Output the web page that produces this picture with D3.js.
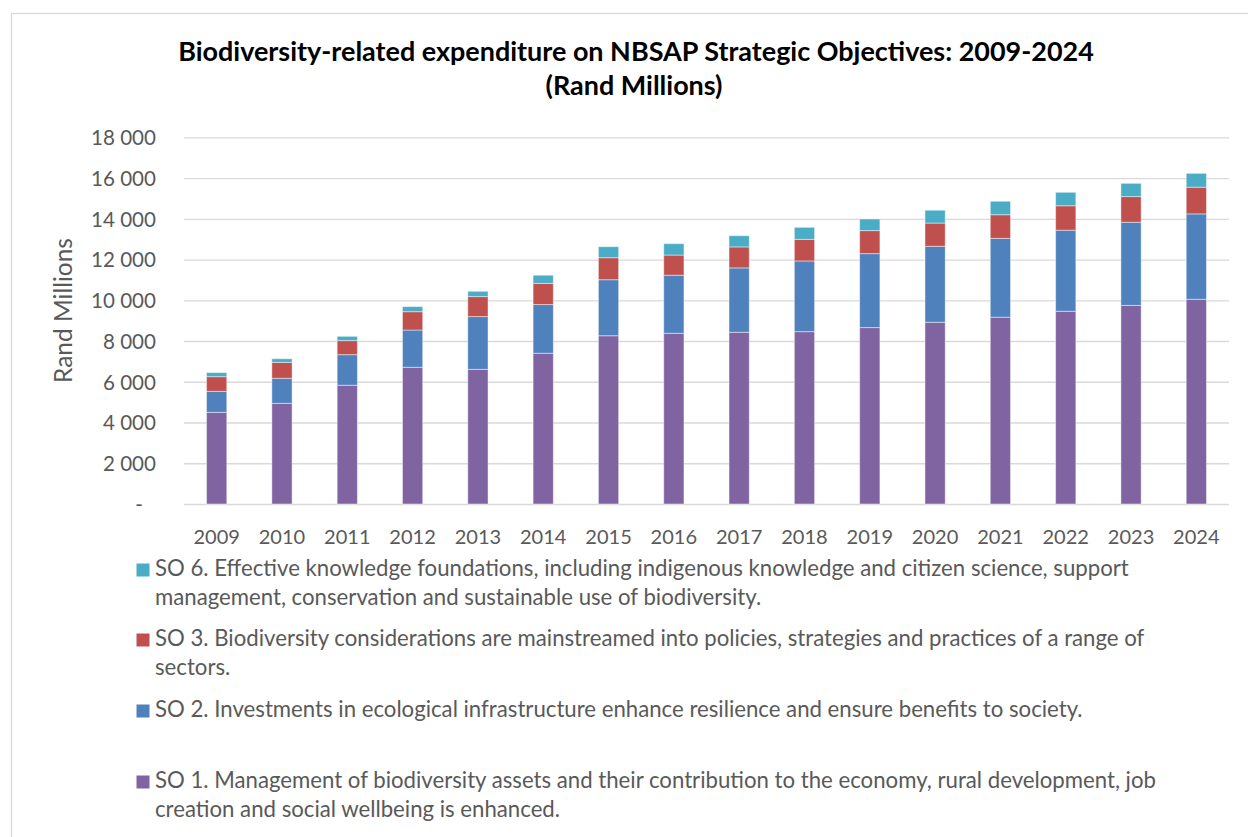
<!DOCTYPE html>
<html>
<head>
<meta charset="utf-8">
<script src="https://cdn.jsdelivr.net/npm/d3@7"></script>
<style>
  html, body { margin: 0; padding: 0; background: #fff; }
  svg { display: block; }
</style>
</head>
<body>
<svg id="chart" width="1248" height="837"></svg>
<script>
// Years on the category axis
const years = ["2009","2010","2011","2012","2013","2014","2015","2016",
               "2017","2018","2019","2020","2021","2022","2023","2024"];

// Expenditure per strategic objective, Rand millions
const so1 = [4500,4940,5830,6710,6610,7400,8260,8380,8430,8460,8660,8920,9170,9460,9750,10050];
const so2 = [1030,1230,1500,1830,2590,2390,2750,2850,3160,3470,3630,3730,3870,3980,4080,4190];
const so3 = [720,780,690,900,980,1040,1080,990,1030,1060,1130,1140,1160,1200,1260,1310];
const so6 = [200,180,210,250,260,400,540,560,550,590,570,630,660,660,650,680];

// Stack order, bottom to top
const seriesKeys = ["so1","so2","so3","so6"];
const seriesColors = { so1: "#8064A2", so2: "#4F81BD", so3: "#C0504D", so6: "#4BACC6" };

// Y-axis tick values
const yTicks = [0,2000,4000,6000,8000,10000,12000,14000,16000,18000];

// Legend entries (top to bottom), already broken into lines
const legendKeys = ["so6","so3","so2","so1"];
const legendLines = [
  ["SO 6. Effective knowledge foundations, including indigenous knowledge and citizen science, support",
   "management, conservation and sustainable use of biodiversity."],
  ["SO 3. Biodiversity considerations are mainstreamed into policies, strategies and practices of a range of",
   "sectors."],
  ["SO 2. Investments in ecological infrastructure enhance resilience and ensure benefits to society."],
  ["SO 1. Management of biodiversity assets and their contribution to the economy, rural development, job",
   "creation and social wellbeing is enhanced."]
];

const titleLines = ["Biodiversity-related expenditure on NBSAP Strategic Objectives: 2009-2024",
                    "(Rand Millions)"];
const yTitle = "Rand Millions";

const FONT = "Lato, 'Open Sans', sans-serif";
const TEXT_GREY = "#595959";
const GRID = "#d9d9d9";

const svg = d3.select("#chart");

// Size a font so that a given string occupies a given width
function fitSize(str, weight, target) {
  const base = 20;
  const t = svg.append("text")
    .attr("font-family", FONT).attr("font-weight", weight)
    .attr("font-size", base).text(str);
  const w = t.node().getComputedTextLength();
  t.remove();
  return base * target / w;
}

// Outer chart frame
svg.append("rect")
  .attr("x", 11.5).attr("y", 13.5)
  .attr("width", 1300).attr("height", 900)
  .attr("fill", "none").attr("stroke", GRID).attr("stroke-width", 1.3);

// Scales
const plot = { left: 184, right: 1229, top: 137.3, bottom: 504 };
const x = d3.scaleBand().domain(years)
  .range([plot.left, plot.right])
  .paddingInner(0.69).paddingOuter(0.345);
const y = d3.scaleLinear().domain([0, 18000]).range([plot.bottom, plot.top]);

// Title
const titleSize = fitSize(titleLines[0], 700, 916);
const cx = (178 + 1094) / 2;
svg.append("text")
  .attr("x", cx).attr("y", 61)
  .attr("text-anchor", "middle")
  .attr("font-family", FONT).attr("font-weight", 700)
  .attr("font-size", titleSize).attr("fill", "#000")
  .text(titleLines[0]);
svg.append("text")
  .attr("x", cx - 2).attr("y", 95)
  .attr("text-anchor", "middle")
  .attr("font-family", FONT).attr("font-weight", 700)
  .attr("font-size", titleSize).attr("fill", "#000")
  .text(titleLines[1]);

// Y axis with gridlines
const tickSize = fitSize("18 000", 400, 65);
const fmt = v => v === 0 ? "-" : d3.format(",")(v).replace(/,/g, " ");
const yAxis = d3.axisLeft(y)
  .tickValues(yTicks)
  .tickFormat(fmt)
  .tickSize(-(plot.right - plot.left))
  .tickPadding(28);
const gy = svg.append("g")
  .attr("transform", `translate(${plot.left},0)`)
  .call(yAxis);
gy.select(".domain").remove();
gy.selectAll(".tick line").attr("stroke", GRID).attr("stroke-width", 1.3);
gy.selectAll(".tick text")
  .attr("font-family", FONT).attr("font-size", tickSize)
  .attr("fill", TEXT_GREY).attr("dy", "0.36em");
gy.selectAll(".tick text").filter(d => d === 0).attr("x", -41);

// Y axis title
const yTitleSize = fitSize(yTitle, 400, 145);
svg.append("text")
  .attr("transform", `translate(72,${(238 + 383) / 2}) rotate(-90)`)
  .attr("text-anchor", "middle")
  .attr("font-family", FONT).attr("font-size", yTitleSize)
  .attr("fill", TEXT_GREY)
  .text(yTitle);

// Stacked bars
const rows = years.map((yr, i) => ({ year: yr, so1: so1[i], so2: so2[i], so3: so3[i], so6: so6[i] }));
const stacked = d3.stack().keys(seriesKeys)(rows);

svg.append("g").selectAll("g")
  .data(stacked)
  .join("g")
  .attr("fill", d => seriesColors[d.key])
  .selectAll("rect")
  .data(d => d)
  .join("rect")
  .attr("x", d => x(d.data.year))
  .attr("width", x.bandwidth())
  .attr("y", d => y(d[1]))
  .attr("height", d => y(d[0]) - y(d[1]))
  .attr("stroke", "#ffffff")
  .attr("stroke-opacity", 0.45)
  .attr("stroke-width", 1);

// X axis labels
const yearSize = fitSize("2009", 400, 46.5);
const xAxis = d3.axisBottom(x).tickSize(0);
const gx = svg.append("g")
  .attr("transform", `translate(0,${plot.bottom})`)
  .call(xAxis);
gx.select(".domain").remove();
gx.selectAll(".tick text")
  .attr("font-family", FONT).attr("font-size", yearSize)
  .attr("fill", TEXT_GREY)
  .attr("y", 39.5).attr("dy", 0);

// Legend
const legendSize = fitSize(legendLines[0][0], 400, 974);
const legendBaselines = [576, 646, 717, 788];
const lineGap = 29;
const legend = svg.append("g");
legendKeys.forEach((key, i) => {
  const b = legendBaselines[i];
  legend.append("rect")
    .attr("x", 136.5).attr("y", b - 12.5)
    .attr("width", 13).attr("height", 13)
    .attr("fill", seriesColors[key]);
  legendLines[i].forEach((line, j) => {
    legend.append("text")
      .attr("x", 155).attr("y", b + j * lineGap)
      .attr("font-family", FONT).attr("font-size", legendSize)
      .attr("fill", TEXT_GREY)
      .text(line);
  });
});
</script>
</body>
</html>
